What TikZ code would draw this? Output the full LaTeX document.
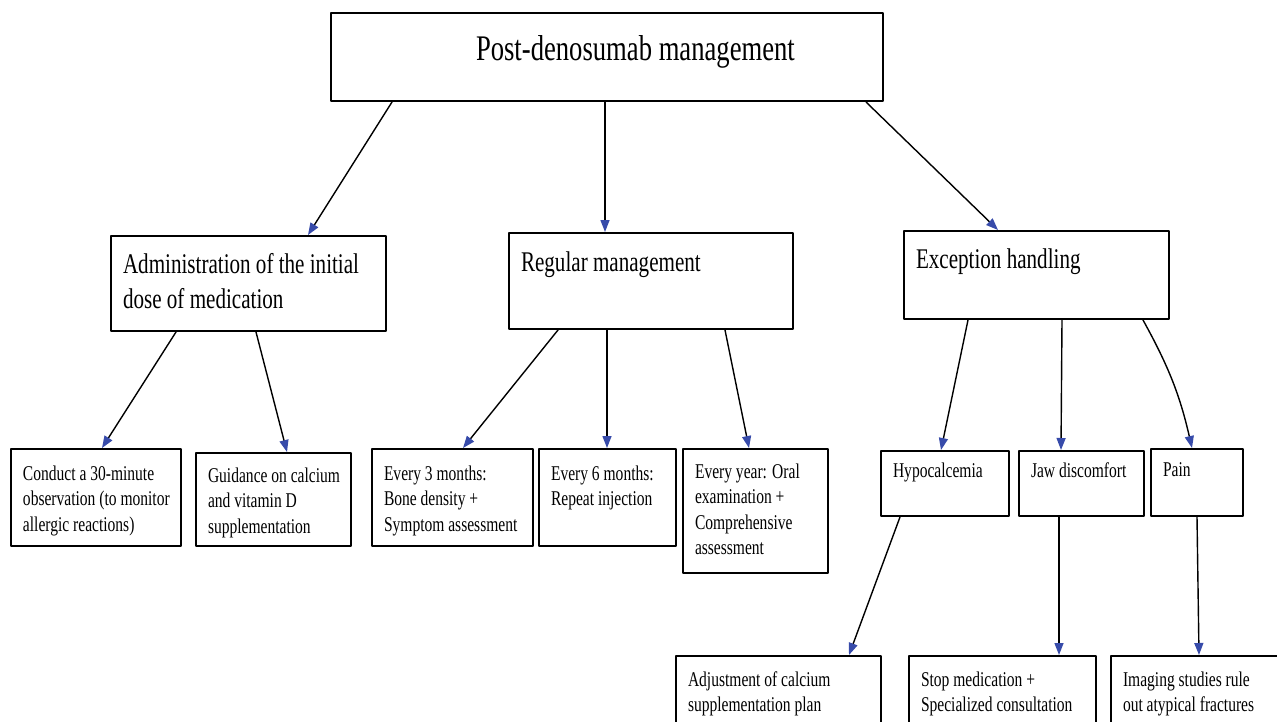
\documentclass[tikz,border=0pt]{standalone}
\usepackage{fontspec}
\setmainfont{Liberation Serif}[FakeStretch=0.74]
\usetikzlibrary{arrows.meta}
\definecolor{tipblue}{RGB}{55,75,170}
\newcommand{\cardtext}[4]{\parbox[c][#2pt][t]{#1pt}{\begin{tabular}[t]{@{}l@{}}\rule{0pt}{#3pt}#4\end{tabular}}}
\begin{document}
\begin{tikzpicture}[x=1pt, y=-1pt, line join=round, line cap=round,
            card/.style={draw, line width=2pt, anchor=north west, inner xsep=12pt, inner ysep=0pt,
                font=\fontsize{21}{25.5}\selectfont},
            midcard/.style={card, font=\fontsize{28.5}{35}\selectfont},
            link/.style={line width=1.4pt, -{Triangle[length=12pt, width=9pt, color=tipblue]}}]
            \useasboundingbox (0,0) rectangle (1277,721);
            \clip (0,0) rectangle (1277,721);
            % top
            \node[card, font=\fontsize{36}{43}\selectfont] (root) at (330,12)
                {\cardtext{528}{88}{47}{\hspace*{133pt}Post-denosumab management}};
            % second row
            \node[midcard] (admin) at (110,235) {\cardtext{251}{95}{37}{Administration of the initial\\dose of medication}};
            \node[midcard] (regular) at (508,232) {\cardtext{260}{96}{38}{Regular management}};
            \node[midcard] (except) at (903,230) {\cardtext{241}{88}{37}{Exception handling}};
            % third row
            \node[card] (observe) at (10,448) {\cardtext{146}{97}{31}{Conduct a 30-minute\\observation (to monitor\\allergic reactions)}};
            \node[card] (guide) at (195,452) {\cardtext{131}{93}{29}{Guidance on calcium\\and vitamin D\\supplementation}};
            \node[card] (three) at (371,448) {\cardtext{137}{97}{31}{Every 3 months:\\Bone density +\\Symptom assessment}};
            \node[card] (six) at (538,448) {\cardtext{113}{97}{31}{Every 6 months:\\Repeat injection}};
            \node[card] (year) at (682,448) {\cardtext{121}{124}{29}{Every year: Oral\\examination +\\Comprehensive\\assessment}};
            \node[card] (hypo) at (880,450) {\cardtext{104}{65}{26}{Hypocalcemia}};
            \node[card] (jaw) at (1018,450) {\cardtext{101}{65}{26}{Jaw discomfort}};
            \node[card] (pain) at (1150,448) {\cardtext{68}{67}{27}{Pain}};
            % bottom row
            \node[card] (adjust) at (675,655) {\cardtext{181}{80}{30}{Adjustment of calcium\\supplementation plan}};
            \node[card] (stop) at (908,655) {\cardtext{163}{80}{30}{Stop medication +\\Specialized consultation}};
            \node[card] (imaging) at (1110,655) {\cardtext{156}{80}{30}{Imaging studies rule\\out atypical fractures}};
            % arrows
            \draw[link] ([xshift=62pt]root.south west) -- ([xshift=198pt]admin.north west);
            \draw[link] ([xshift=275pt]root.south west) -- ([xshift=97pt]regular.north west);
            \draw[link] ([xshift=536pt]root.south west) -- ([xshift=95pt]except.north west);
            \draw[link] ([xshift=66pt]admin.south west) -- ([xshift=92pt]observe.north west);
            \draw[link] ([xshift=146pt]admin.south west) -- ([xshift=92pt]guide.north west);
            \draw[link] ([xshift=50pt]regular.south west) -- ([xshift=92pt]three.north west);
            \draw[link] ([xshift=99pt]regular.south west) -- ([xshift=69pt]six.north west);
            \draw[link] ([xshift=217pt]regular.south west) -- ([xshift=67pt]year.north west);
            \draw[link] ([xshift=65pt]except.south west) -- ([xshift=61pt]hypo.north west);
            \draw[link] ([xshift=159pt]except.south west) -- ([xshift=43pt]jaw.north west);
            \draw[link] ([xshift=240pt]except.south west) to[bend left=8] ([xshift=42pt]pain.north west);
            \draw[link] ([xshift=20pt]hypo.south west) -- ([xshift=174pt]adjust.north west);
            \draw[link] ([xshift=41pt]jaw.south west) -- ([xshift=151pt]stop.north west);
            \draw[link] ([xshift=47pt]pain.south west) -- ([xshift=89pt]imaging.north west);
\end{tikzpicture}
\end{document}
